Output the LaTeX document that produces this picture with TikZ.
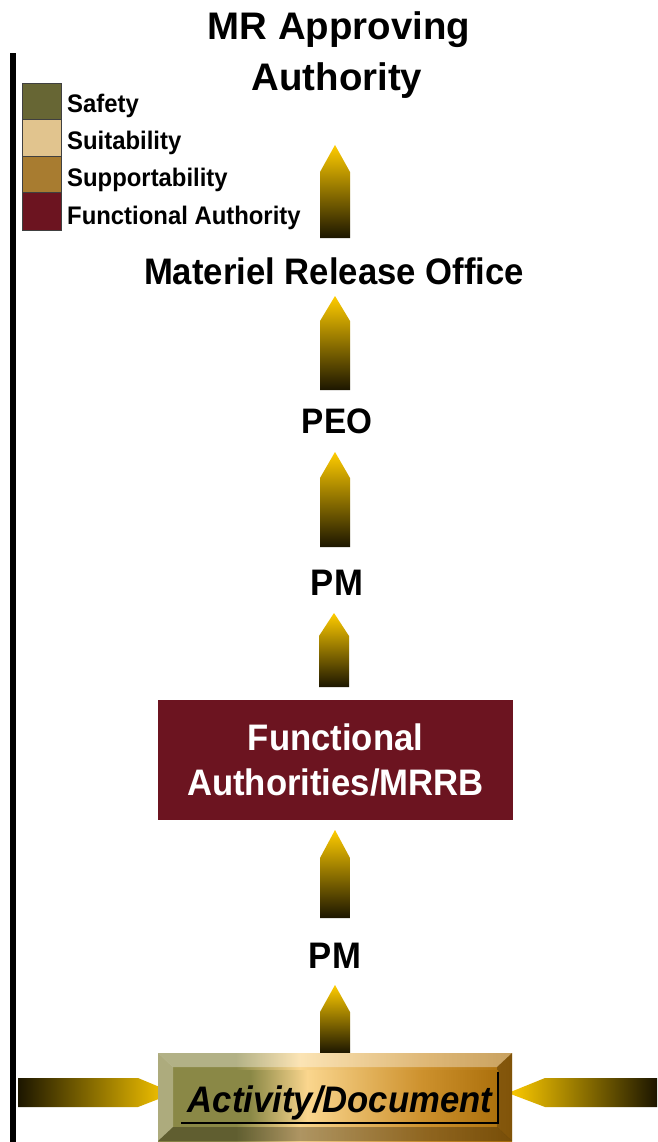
\documentclass[tikz,border=0pt]{standalone}
\usepackage{fontspec}
\setmainfont[FakeStretch=0.94]{Liberation Sans}
\newfontfamily\titlefont{Liberation Sans}
\definecolor{gold}{RGB}{255,204,0}
\definecolor{midgold}{RGB}{200,156,0}
\definecolor{dk}{RGB}{28,22,0}
\definecolor{safetyc}{RGB}{103,102,52}
\definecolor{suitc}{RGB}{225,196,142}
\definecolor{suppc}{RGB}{168,124,48}
\definecolor{funcc}{RGB}{108,20,32}
\definecolor{olv}{RGB}{138,136,70}
\definecolor{pch}{RGB}{250,214,142}
\definecolor{org}{RGB}{205,145,45}
\definecolor{brn}{RGB}{172,112,12}
\pgfdeclarehorizontalshading{actshade}{100bp}{color(0bp)=(olv); color(25bp)=(olv); color(36bp)=(olv); color(45bp)=(pch); color(63bp)=(org); color(75bp)=(brn); color(100bp)=(brn)}
\tikzset{
  lbl/.style={font=\bfseries\fontsize{36.9}{44}\selectfont, anchor=base, inner sep=0pt},
  leg/.style={font=\bfseries\fontsize{25.4}{30}\selectfont, anchor=base west, inner sep=0pt},
  legbox/.style={draw=black!75, line width=0.8pt},
  uparr/.style={top color=gold, middle color=midgold, bottom color=dk},
}
\newcommand\myuparrow[4]{\shade[uparr] ({#1-15},#4) -- ({#1-15},#3) -- (#1,#2) -- ({#1+15},#3) -- ({#1+15},#4) -- cycle;}
\begin{document}
\begin{tikzpicture}[x=1pt,y=-1pt]
\useasboundingbox (0,0) rectangle (657,1142);
\fill[white] (0,0) rectangle (657,1142);

% vertical bar
\fill[black] (10,53) rectangle (16,1142);

% legend
\fill[safetyc] (22,83) rectangle (61,119); \draw[legbox] (22,83) rectangle (61,119);
\fill[suitc] (22,119) rectangle (61,156); \draw[legbox] (22,119) rectangle (61,156);
\fill[suppc] (22,156) rectangle (61,192); \draw[legbox] (22,156) rectangle (61,192);
\fill[funcc] (22,192) rectangle (61,230); \draw[legbox] (22,192) rectangle (61,230);
\node[leg] (lsafe) at (67,113) {Safety};
\node[leg] (lsuit) at (67,150) {Suitability};
\node[leg] (lsupp) at (67,186) {Supportability};
\node[leg] (lfunc) at (67,224) {Functional Authority};

% texts
\node[lbl, font=\titlefont\bfseries\fontsize{38.4}{46}\selectfont] (title1) at (339,40) {MR Approving};
\node[lbl, font=\titlefont\bfseries\fontsize{38.4}{46}\selectfont] (title2) at (337,91) {Authority};
\node[lbl] (mro) at (334,284) {Materiel Release Office};
\node[lbl, font=\bfseries\fontsize{35.4}{44}\selectfont] (peo) at (337,433) {PEO};
\node[lbl] (pm1) at (337,595) {PM};
\node[fill=funcc, minimum width=355pt, minimum height=120pt, inner sep=0pt, text=white, align=center,
      font=\bfseries\fontsize{36.9}{45}\selectfont] (fa) at (335.5,760) {Functional\\Authorities/MRRB};
\node[lbl] (pm2) at (335,968) {PM};

% up arrows
\myuparrow{335}{145}{172}{238}
\myuparrow{335}{296}{321}{390}
\myuparrow{335}{452}{478}{547}
\myuparrow{334}{613}{636}{687}
\myuparrow{335}{830}{858}{918}
\myuparrow{335}{985}{1012}{1053}

% side arrows
\shade[left color=dk, middle color=midgold, right color=gold] (18,1078) -- (138,1078) -- (174,1093) -- (138,1107) -- (18,1107) -- cycle;
\shade[left color=gold, middle color=midgold, right color=dk] (657,1078) -- (545,1078) -- (508,1093) -- (545,1107) -- (657,1107) -- cycle;

% activity box
\shade[shading=actshade] (158,1053) rectangle (512,1141);
\fill[white, opacity=0.35] (158,1053) -- (512,1053) -- (497,1067) -- (173,1067) -- cycle;
\fill[white, opacity=0.3] (158,1053) -- (173,1067) -- (173,1127) -- (158,1141) -- cycle;
\fill[black, opacity=0.25] (512,1053) -- (512,1141) -- (497,1127) -- (497,1067) -- cycle;
\fill[black, opacity=0.3] (158,1141) -- (512,1141) -- (497,1127) -- (173,1127) -- cycle;
\shade[shading=actshade] (180,1070) rectangle (498,1123);
\draw[black, line width=1.6pt] (181,1123) -- (498,1123) -- (498,1072);
\node[lbl, font=\bfseries\itshape\fontsize{36.9}{44}\selectfont] (act) at (340,1112) {Activity/Document};
\end{tikzpicture}
\end{document}
